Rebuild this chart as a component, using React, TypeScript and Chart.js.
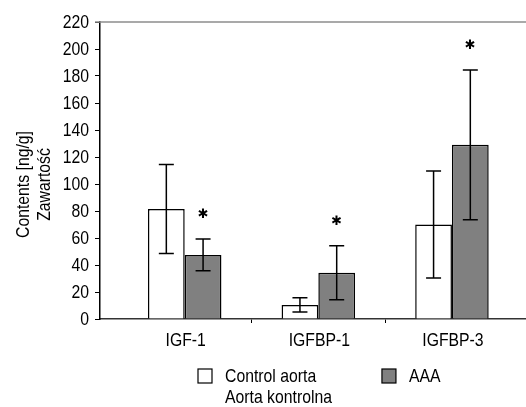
import React, { useEffect, useRef } from 'react';
import { Chart, registerables, CategoryScale } from 'chart.js';

Chart.register(...registerables);

class ShiftedCategoryScale extends CategoryScale {
  static id = 'shiftedCategory';
  configure() {
    super.configure();
    const w = this.right - this.left;
    const start = this.left + w * 0.042;
    const len = w * 0.941;
    (this as any)._startPixel = start;
    (this as any)._endPixel = start + len;
    (this as any)._length = len;
  }
}
Chart.register(ShiftedCategoryScale as any);

const categories = ['IGF-1', 'IGFBP-1', 'IGFBP-3'];
const controlMean = [81.5, 10.4, 70];
const controlErr = [33, 5.3, 39.6];
const aaaMean = [47.5, 34.3, 129];
const aaaErr = [11.8, 20, 55.5];
const aaaSignificant = [true, true, true];
const seriesLabels = [['Control aorta', 'Aorta kontrolna'], ['AAA']];
const yTitle = ['Contents [ng/g]', 'Zawartość'];
const yMin = 0;
const yMax = 220;
const yStep = 20;

const FONT = "'Liberation Sans', Arial, sans-serif";
const FS = 19;
const SX = 0.83; // horizontal condensing to emulate a narrow face

function narrowText(ctx: CanvasRenderingContext2D, text: string, x: number, y: number, align: CanvasTextAlign, rot = 0) {
  ctx.save();
  ctx.translate(x, y);
  if (rot) ctx.rotate(rot);
  ctx.scale(SX, 1);
  ctx.textAlign = align;
  ctx.textBaseline = 'middle';
  ctx.fillText(text, 0, 0);
  ctx.restore();
}

const decorPlugin = {
  id: 'decor',
  afterDraw(chart: any) {
    const { ctx, chartArea } = chart;
    const y = chart.scales.y;
    const x = chart.scales.x;
    ctx.save();
    // top frame line
    ctx.strokeStyle = '#8c8c8c';
    ctx.lineWidth = 1.5;
    ctx.beginPath();
    ctx.moveTo(chartArea.left - 5, chartArea.top);
    ctx.lineTo(chart.width, chartArea.top);
    ctx.stroke();

    // error bars
    const errs = [controlErr, aaaErr];
    const means = [controlMean, aaaMean];
    ctx.strokeStyle = '#000';
    ctx.lineWidth = 1.5;
    for (let d = 0; d < 2; d++) {
      const meta = chart.getDatasetMeta(d);
      meta.data.forEach((bar: any, i: number) => {
        const bx = bar.x;
        const t = y.getPixelForValue(means[d][i] + errs[d][i]);
        const b = y.getPixelForValue(means[d][i] - errs[d][i]);
        ctx.beginPath();
        ctx.moveTo(bx, t);
        ctx.lineTo(bx, b);
        ctx.moveTo(bx - 7.5, t);
        ctx.lineTo(bx + 7.5, t);
        ctx.moveTo(bx - 7.5, b);
        ctx.lineTo(bx + 7.5, b);
        ctx.stroke();
      });
    }
    // asterisks
    const meta1 = chart.getDatasetMeta(1);
    ctx.fillStyle = '#000';
    ctx.font = "bold 13px 'DejaVu Sans', sans-serif";
    ctx.textAlign = 'center';
    ctx.textBaseline = 'middle';
    meta1.data.forEach((bar: any, i: number) => {
      if (!aaaSignificant[i]) return;
      const t = y.getPixelForValue(aaaMean[i] + aaaErr[i]);
      ctx.fillText('✱', bar.x, t - 24);
    });

    ctx.font = `${FS}px ${FONT}`;
    ctx.fillStyle = '#000';

    // y tick labels
    y.ticks.forEach((tk: any, i: number) => {
      narrowText(ctx, String(tk.value), y.right - 11, y.getPixelForTick(i) + 1, 'right');
    });
    // x tick labels
    x.ticks.forEach((tk: any, i: number) => {
      narrowText(ctx, categories[i], x.getPixelForTick(i) + 1, chartArea.bottom + 22, 'center');
    });

    // y title
    const cy = (chartArea.top + chartArea.bottom) / 2 + 14;
    yTitle.forEach((line, k) => {
      narrowText(ctx, line, 24 + k * 21, cy, 'center', -Math.PI / 2);
    });

    // legend
    const ds = chart.data.datasets;
    let lx = 198;
    const ly = chartArea.bottom + 50;
    ds.forEach((dset: any, k: number) => {
      ctx.fillStyle = dset.backgroundColor;
      ctx.fillRect(lx, ly, 14, 14);
      ctx.strokeStyle = '#000';
      ctx.lineWidth = 1.2;
      ctx.strokeRect(lx, ly, 14, 14);
      ctx.fillStyle = '#000';
      const lines: string[] = seriesLabels[k];
      let maxW = 0;
      lines.forEach((ln, j) => {
        narrowText(ctx, ln, lx + 27, ly + 8 + j * 21, 'left');
        maxW = Math.max(maxW, ctx.measureText(ln).width * SX);
      });
      lx += 27 + maxW + 50;
    });
    ctx.restore();
  },
};

export default function App() {
  const ref = useRef<HTMLCanvasElement | null>(null);
  useEffect(() => {
    document.body.style.margin = '0';
    const chart = new Chart(ref.current as HTMLCanvasElement, {
      type: 'bar',
      data: {
        labels: categories,
        datasets: [
          {
            label: seriesLabels[0].join(' '),
            data: controlMean,
            backgroundColor: '#ffffff',
            borderColor: '#000000',
            borderWidth: 1.5,
            categoryPercentage: 0.55,
            barPercentage: 1,
          },
          {
            label: seriesLabels[1].join(' '),
            data: aaaMean,
            backgroundColor: '#808080',
            borderColor: '#000000',
            borderWidth: 1.5,
            categoryPercentage: 0.55,
            barPercentage: 1,
          },
        ],
      },
      options: {
        animation: false,
        responsive: false,
        devicePixelRatio: 1,
        layout: { padding: { top: 22, left: 0, right: 0, bottom: 0 } },
        plugins: { legend: { display: false }, tooltip: { enabled: false } },
        scales: {
          x: {
            type: 'shiftedCategory' as any,
            offset: true,
            grid: {
              offset: true,
              drawOnChartArea: false,
              tickLength: 4,
              lineWidth: 1,
              color: (c: any) => (c.index === 1 || c.index === 2 ? '#000' : 'rgba(0,0,0,0)'),
            },
            border: { color: '#333', width: 1.5 },
            ticks: { color: 'rgba(0,0,0,0)', font: { family: FONT, size: FS }, padding: 7, maxRotation: 0 },
            afterFit: (s: any) => { s.height = 88; },
          },
          y: {
            min: yMin,
            max: yMax,
            ticks: { stepSize: yStep, color: 'rgba(0,0,0,0)', font: { family: FONT, size: FS }, padding: 6 },
            grid: { drawOnChartArea: false, tickLength: 5, color: '#000', lineWidth: 1 },
            border: { color: '#000', width: 1.5 },
            afterFit: (s: any) => { s.width = 100; },
          },
        },
      },
      plugins: [decorPlugin],
    } as any);
    return () => chart.destroy();
  }, []);
  return (
    <div style={{ width: 526, height: 407 }}>
      <canvas ref={ref} width={526} height={407} />
    </div>
  );
}
